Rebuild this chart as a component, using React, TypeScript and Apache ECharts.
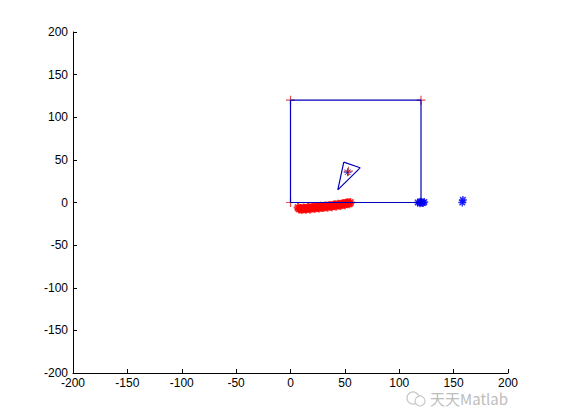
import React, { useEffect, useRef } from "react";
import * as echarts from "echarts";

const xTicks = [-200, -150, -100, -50, 0, 50, 100, 150, 200];
const yTicks = [-200, -150, -100, -50, 0, 50, 100, 150, 200];

const rectPath: number[][] = [[0, 0], [0, 120], [120, 120], [120, 0], [0, 0]];
const cornerPoints: number[][] = [[0, 0], [0, 120], [120, 120], [120, 0]];
const trianglePath: number[][] = [[49, 47.3], [64, 40.7], [43.5, 14.8], [49, 47.3]];
const targetRed: number[][] = [[53.3, 36.7]];
const targetBlue: number[][] = [[52.5, 35.5]];
const redTrail: number[][] = [
  [7, -6], [8, -7.5], [9, -7], [10, -8], [11, -7.5], [12, -6.5], [13, -7], [14, -8], [15, -7],
  [16, -6], [17, -6.5], [18, -7.5], [19, -6.5], [20, -5.5], [21, -6], [22, -7], [23, -6],
  [24, -5], [25, -5.5], [26, -6.5], [27, -5.5], [28, -4.5], [29, -5], [30, -6], [31, -5],
  [32, -4], [33, -4.5], [34, -5.5], [35, -4], [36, -3.5], [37, -4], [38, -5], [39, -3.5],
  [40, -3], [41, -3], [42, -4], [43, -3], [44, -2], [45, -2.5], [46, -3.5], [47, -2],
  [48, -1.5], [49, -1.5], [50, -2.5], [51, -1], [52, -0.5], [53, -0.5], [54, -1.5], [55, 0],
];
const blueStars: number[][] = [
  [117, 0], [119, -1], [120, 1], [121, 0], [122, -0.5], [119, 0.5], [123, 0.5],
  [158, 0], [158.5, 3],
];

const plusSymbol = "path://M0,-1L0,1M-1,0L1,0";
const starSymbol = "path://M0,-1L0,1M-1,0L1,0M-0.7,-0.7L0.7,0.7M-0.7,0.7L0.7,-0.7";
const blue = "#0000b8";
const red = "#ff0000";

export default function App() {
  const ref = useRef<HTMLDivElement>(null);
  useEffect(() => {
    if (!ref.current) return;
    const chart = echarts.init(ref.current, undefined, { renderer: "svg" });
    const axisCommon = {
      type: "value" as const,
      min: -200,
      max: 200,
      interval: 50,
      axisLine: { show: true, onZero: false, lineStyle: { color: "#000", width: 1 } },
      axisTick: { show: true, inside: true, length: 4, lineStyle: { color: "#000" } },
      splitLine: { show: false },
      axisLabel: { color: "#000", fontSize: 12, fontFamily: "Liberation Sans, Arial, sans-serif" },
    };
    const starSeries = (data: number[][], color: string, size = 9, w = 1.5) => ({
      type: "scatter" as const,
      data,
      symbol: starSymbol,
      symbolSize: size,
      itemStyle: { color: "none", borderColor: color, borderWidth: w },
      silent: true,
    });
    chart.setOption({
      animation: false,
      backgroundColor: "#fff",
      grid: { left: 73, right: 53, top: 32, bottom: 47, containLabel: false },
      xAxis: {
        ...axisCommon,
        axisLabel: { ...axisCommon.axisLabel, margin: 4, formatter: (v: number) => (xTicks.includes(v) ? String(v) : "") },
      },
      yAxis: {
        ...axisCommon,
        axisLabel: { ...axisCommon.axisLabel, margin: 5, formatter: (v: number) => (yTicks.includes(v) ? String(v) : "") },
      },
      series: [
        {
          type: "line",
          data: rectPath,
          symbol: "none",
          lineStyle: { color: blue, width: 1.2 },
          silent: true,
        },
        {
          type: "scatter",
          data: cornerPoints,
          symbol: plusSymbol,
          symbolSize: 9,
          itemStyle: { color: "none", borderColor: "#e02020", borderWidth: 1.2 },
          silent: true,
        },
        {
          type: "line",
          data: trianglePath,
          symbol: "none",
          lineStyle: { color: blue, width: 1.2 },
          silent: true,
        },
        starSeries(redTrail, red, 9, 2),
        starSeries(blueStars, "#0000ff", 8, 1.5),
        starSeries(targetBlue, blue, 8, 1),
        {
          type: "scatter",
          data: targetRed,
          symbol: plusSymbol,
          symbolSize: 9,
          itemStyle: { color: "none", borderColor: "#c02040", borderWidth: 1.2 },
          silent: true,
        },
      ],
      graphic: [
        {
          type: "circle",
          shape: { cx: 413, cy: 398, r: 6 },
          style: { fill: "none", stroke: "#c8c8c8", lineWidth: 1.2 },
        },
        {
          type: "circle",
          shape: { cx: 420, cy: 401, r: 5 },
          style: { fill: "#fff", stroke: "#c8c8c8", lineWidth: 1.2 },
        },
        {
          type: "text",
          left: 430,
          top: 391,
          style: {
            text: "天天Matlab",
            fill: "#bdbdbd",
            fontSize: 15,
            fontFamily: "Noto Sans CJK SC, sans-serif",
          },
        },
      ],
    });
    return () => chart.dispose();
  }, []);
  return <div ref={ref} style={{ width: 561, height: 420, position: "absolute", left: 0, top: 0 }} />;
}
